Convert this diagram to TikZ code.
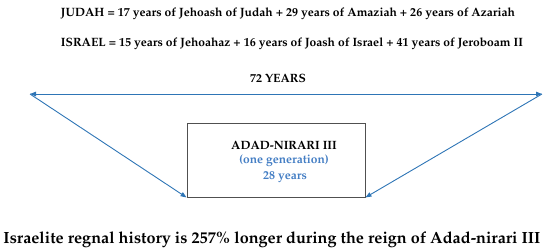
\documentclass[tikz,border=0pt]{standalone}
\usepackage[T1]{fontenc}
\renewcommand{\rmdefault}{ppl}
\usetikzlibrary{arrows.meta}
\definecolor{arrblue}{RGB}{46,117,182}
\definecolor{txtblue}{RGB}{68,126,196}
\definecolor{boxgray}{RGB}{80,80,80}
\tikzset{
  lbl/.style={inner sep=0pt, anchor=center, font=\bfseries\fontsize{12}{14}\selectfont},
  big/.style={inner sep=0pt, anchor=center, font=\bfseries\fontsize{14.5}{17}\selectfont},
  arr/.style={draw=arrblue, line width=0.9pt, -{Triangle[length=6pt,width=4.5pt]}},
  framebox/.style={draw=boxgray, line width=0.9pt, minimum width=178pt, minimum height=74pt, inner sep=0pt}
}
\begin{document}
\begin{tikzpicture}[x=1pt,y=-1pt]
\useasboundingbox (0,0) rectangle (550,250);
\node[lbl] (judah) at (288,14) {\resizebox{454pt}{!}{JUDAH = 17 years of Jehoash of Judah + 29 years of Amaziah + 26 years of Azariah}};
\node[lbl] (israel) at (292,44) {\resizebox{462pt}{!}{ISRAEL = 15 years of Jehoahaz + 16 years of Joash of Israel + 41 years of Jeroboam II}};
\node[lbl] (yrs) at (278,78) {72 YEARS};
\coordinate (L) at (30,94);
\coordinate (R) at (542,94);
\node[framebox] (box) at (276,160) {};
\node[lbl] (adad) at (284,145) {ADAD-NIRARI III};
\node[lbl, text=txtblue] (gen) at (284,161) {(one generation)};
\node[lbl, text=txtblue] (y28) at (285,177) {28 years};
\draw[arr, {Triangle[length=6pt,width=4.5pt]}-{Triangle[length=6pt,width=4.5pt]}] (L) -- (R);
\draw[arr] (L) -- (box.south west);
\draw[arr] (R) -- (box.south east);
\node[big] (summary) at (272,240) {\resizebox{537pt}{!}{Israelite regnal history is 257\% longer during the reign of Adad-nirari III}};
\end{tikzpicture}
\end{document}
